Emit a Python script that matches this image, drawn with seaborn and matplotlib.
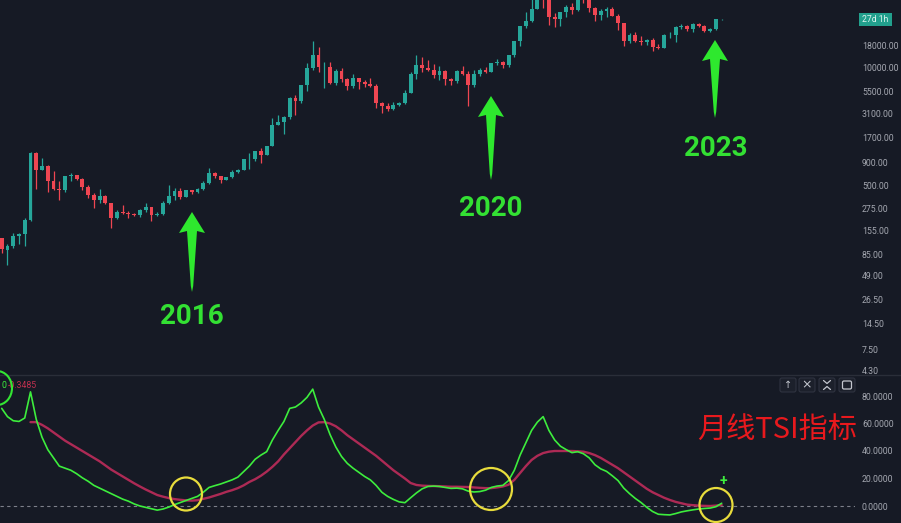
import numpy as np
import pandas as pd
import matplotlib
matplotlib.use("Agg")
import matplotlib.pyplot as plt
import seaborn as sns
from matplotlib.patches import Polygon, Ellipse, FancyBboxPatch, Rectangle
from matplotlib.lines import Line2D
from matplotlib.transforms import Affine2D
from matplotlib.ticker import FixedLocator, FixedFormatter, NullLocator

# ---------------- data (monthly, Jun 2013 .. Nov 2023) ----------------
months = pd.date_range("2013-06-01", "2023-11-01", freq="MS")

opens = [129, 96, 104, 135, 143, 205, 1130,
         740, 808, 560, 450, 445, 628, 640, 585, 478, 387, 338, 376,
         320, 217, 254, 244, 236, 230, 263, 284, 230, 236, 314, 377,
         430, 368, 437, 416, 448, 531, 673, 624, 573, 608, 700, 745,
         963, 970, 1190, 1080, 1350, 2300, 2480, 2875, 4700, 4340, 6470, 9950,
         13850, 10200, 10300, 6900, 9240, 7500, 6390, 7730, 7030, 6630, 6370, 4040,
         3740, 3460, 3850, 4100, 5320, 8570, 10800, 10100, 9600, 8290, 9150, 7540,
         7190, 9350, 8520, 6410, 8630, 9450, 9140, 11350, 11650, 10780, 13800, 19700,
         28990, 33110, 45140, 58800, 57700, 37300, 35040, 41460, 47100, 43800, 61300, 57000,
         46300, 38500, 43200, 45500, 37700, 31800, 19900, 23300, 20050, 19430, 20500, 17170,
         16550, 23120, 23150, 28480, 29270, 27200, 30480, 29230, 25940, 26970, 34640]
highs = [130, 111, 146, 145, 215, 1163, 1163,
         1000, 830, 720, 550, 630, 680, 650, 600, 500, 410, 455, 390,
         320, 265, 300, 261, 247, 268, 315, 285, 248, 334, 500, 466,
         460, 440, 440, 470, 550, 780, 705, 630, 615, 735, 750, 975,
         1150, 1210, 1290, 1350, 2760, 2980, 2930, 4750, 4980, 6470, 11500, 19700,
         17200, 11800, 11700, 9750, 9990, 7770, 8500, 7760, 7410, 7680, 6600, 4230,
         4070, 4200, 4150, 5640, 9090, 13900, 13200, 12300, 10950, 10500, 9520, 7740,
         9580, 10500, 9190, 9460, 10070, 10380, 11440, 12470, 12080, 14100, 19900, 29300,
         41950, 58350, 61800, 64900, 59500, 41300, 42400, 50500, 52900, 67000, 69000, 59000,
         47990, 45800, 48200, 47450, 39900, 31950, 24700, 25200, 22800, 21100, 21450, 18400,
         23950, 25250, 29200, 31000, 29850, 31400, 31800, 30200, 27500, 35200, 35000]
lows = [88, 65, 101, 110, 104, 197, 450,
        740, 420, 440, 340, 420, 550, 570, 440, 360, 275, 320, 310,
        165, 212, 237, 214, 225, 220, 253, 200, 225, 235, 310, 345,
        350, 365, 395, 412, 440, 520, 605, 530, 570, 605, 690, 745,
        750, 920, 890, 1070, 1350, 2300, 1830, 2700, 2970, 4110, 5500, 9400,
        9000, 6000, 6600, 6450, 7030, 5750, 6070, 5880, 6100, 6200, 3600, 3150,
        3350, 3400, 3740, 4030, 5320, 7510, 9070, 9330, 7710, 7300, 6520, 6440,
        6860, 8450, 3800, 6150, 8110, 8880, 8970, 10700, 9880, 10370, 13200, 17600,
        28130, 32300, 45000, 47000, 30000, 28800, 29280, 37330, 39600, 43300, 53300, 42000,
        32900, 34300, 37200, 37600, 26700, 17600, 18800, 19600, 18150, 18200, 15500, 16250,
        16500, 21350, 19550, 26950, 25800, 24800, 28850, 25300, 24900, 26550, 34100]
closes = [97, 104, 135, 143, 205, 1130, 740,
          808, 560, 450, 445, 628, 640, 585, 478, 387, 338, 376, 320,
          217, 254, 244, 236, 230, 263, 284, 230, 236, 314, 377, 430,
          368, 437, 416, 448, 531, 673, 624, 573, 608, 700, 745, 963,
          970, 1190, 1080, 1350, 2300, 2480, 2875, 4700, 4340, 6470, 9950, 13850,
          10200, 10300, 6900, 9240, 7500, 6390, 7730, 7030, 6630, 6370, 4040, 3740,
          3460, 3850, 4100, 5320, 8570, 10800, 10100, 9600, 8290, 9150, 7540, 7190,
          9350, 8520, 6410, 8630, 9450, 9140, 11350, 11650, 10780, 13800, 19700, 28990,
          33110, 45140, 58800, 57700, 37300, 35040, 41460, 47100, 43800, 61300, 57000, 46300,
          38500, 43200, 45500, 37700, 31800, 19900, 23300, 20050, 19430, 20500, 17170, 16550,
          23120, 23150, 28480, 29270, 27200, 30480, 29230, 25940, 26970, 34640, 34700]

tsi = [71, 65, 62, 61.5, 64, 83, 63, 50, 41, 35,
       29, 27.5, 26, 23.5, 20.5, 18, 15, 13, 11, 9,
       7, 5, 3.5, 1.5, 0, -1, -2, -3, -2.2, -0.8,
       1, 2.5, 4, 5.5, 7, 10, 13.5, 14.8, 16, 17.5,
       19, 21, 25, 29, 34, 37, 39.5, 48, 55, 61.5,
       71, 72, 75, 79, 85, 72, 63, 52, 43, 36,
       31, 27.5, 24.5, 21.5, 19, 15, 10, 7, 4.8, 3,
       2.4, 6, 9.5, 12.5, 14.2, 14.5, 14.2, 13.5, 12.8, 13,
       12.5, 10.8, 10.2, 10.5, 11.5, 13.5, 14.5, 15, 18.5, 26,
       37, 46, 55, 61, 65, 55, 48, 43.5, 41, 38.8,
       39.5, 38, 35, 30, 27, 25.2, 22, 18.5, 13, 9,
       5.5, 2.5, -1, -4, -6, -6.3, -6.5, -5.5, -4.3, -3.5,
       -2.8, -2.2, -1.8, -1.5, -0.5, 2]
signal_start = 5
signal = [61, 61, 59, 56.5, 53.5, 50.5, 47.5, 45, 42.5, 40,
          37.5, 35, 32.5, 29.5, 26.5, 24, 21.5, 19, 16.5, 14.2,
          12, 10, 8, 6.8, 5.8, 5, 4.5, 4.1, 3.9, 4.2,
          5.2, 6.2, 7.5, 8.8, 10.3, 11.5, 13, 15, 17.5, 19.5,
          22, 25, 28.5, 32.5, 37.5, 42, 46.5, 51, 55, 58.5,
          60.8, 61, 60, 58, 55, 51.5, 48.5, 45.5, 42.5, 39.5,
          36.5, 33, 29.5, 26, 23, 20, 16.7, 15.3, 14.8, 14.6,
          14.5, 14.4, 14.2, 14, 14, 13.9, 13.8, 13.5, 13.2, 13,
          13, 13.5, 14.2, 15.5, 19, 24, 29, 33.5, 36.5, 38.5,
          39.5, 40, 40, 40, 40, 39.8, 39.5, 38.5, 37, 35,
          32.5, 30, 27.5, 24.5, 21.5, 18.5, 15.5, 12.5, 10, 8,
          6, 4.4, 3, 2, 1, 0.6, 0.3, 0.1, 0, 0.3, 0.7]

price_ticks = [4.3, 7.5, 14.5, 26.5, 49, 85, 155, 275, 500, 900, 1700, 3100,
               5500, 10000, 18000, 57000]
tsi_ticks = [0, 20, 40, 60, 80]
year_labels = ["2016", "2020", "2023"]

# ---------------- style ----------------
BG = "#161a25"
UP = "#26a69a"
DN = "#ef4652"
sns.set_theme(style="dark")
plt.rcParams["font.family"] = ["Roboto", "DejaVu Sans"]
plt.rcParams["axes.facecolor"] = BG
plt.rcParams["figure.facecolor"] = BG

W, H = 901, 523
fig = plt.figure(figsize=(W / 100, H / 100), dpi=100)
PX = Affine2D().scale(1, -1).translate(0, H)   # pixel (top-left origin) -> display

ax = fig.add_axes([0, 1 - 373 / H, 855 / W, 373 / H])
ax2 = fig.add_axes([0, 0, 855 / W, (H - 376) / H])

n = len(months)
idx = np.arange(n)
o = np.array(opens, float); c = np.array(closes, float)
hi = np.array(highs, float); lo = np.array(lows, float)
up = c >= o
cols = np.where(up, UP, DN)
bb = np.minimum(o, c)
bt = np.maximum(np.maximum(o, c), bb * 1.014)

ax.vlines(idx, lo, hi, colors=cols, lw=0.9, zorder=2)
ax.bar(idx, bt - bb, bottom=bb, width=0.68, color=cols, lw=0, zorder=3)
ax.set_yscale("log")
ax.set_ylim(10 ** (4 - 305 / 90), 10 ** (4 + 68 / 90))
xl = (-1.7 / 5.76, (855 - 1.7) / 5.76)
ax.set_xlim(*xl)

for a in (ax, ax2):
    a.set_facecolor(BG)
    for s in a.spines.values():
        s.set_visible(False)
    a.grid(False)
    a.set_xticks([])
    a.yaxis.tick_right()
    a.tick_params(axis="y", length=0, pad=5, labelsize=6.3, labelcolor="#a4a7b0")
    a.set_xlabel(""); a.set_ylabel("")

ax.yaxis.set_major_locator(FixedLocator(price_ticks))
ax.yaxis.set_major_formatter(FixedFormatter([f"{t:.2f}" for t in price_ticks]))
ax.yaxis.set_minor_locator(NullLocator())

# ---------------- TSI panel ----------------
sns.lineplot(x=idx, y=tsi, ax=ax2, color="#3ded3d", lw=1.2, zorder=3)
sns.lineplot(x=idx[signal_start:], y=signal, ax=ax2, color="#ad2a55", lw=1.7, zorder=2)
ax2.axhline(0, color="#7d808a", lw=0.8, ls=(0, (3, 3)), zorder=1)
ax2.set_xlim(*xl)
ax2.set_ylim((506 - 523) / 27.5 * 20, (506 - 376) / 27.5 * 20)
ax2.yaxis.set_major_locator(FixedLocator(tsi_ticks))
ax2.yaxis.set_major_formatter(FixedFormatter([f"{t:.4f}" for t in tsi_ticks]))
ax2.set_xlabel(""); ax2.set_ylabel("")

# pane separator
fig.add_artist(Line2D([0, W], [374.5, 374.5], transform=PX, color="#2a2e39", lw=1))

# ---------------- annotations ----------------
GREEN = "#2ee82e"
def arrow(cx, ty, by):
    pts = [(cx, ty), (cx + 13, ty + 21), (cx + 5, ty + 19), (cx + 1.2, by - 6), (cx, by),
           (cx - 1.2, by - 6), (cx - 5, ty + 19), (cx - 13, ty + 21)]
    fig.add_artist(Polygon(pts, closed=True, transform=PX, fc=GREEN, ec="none", zorder=5))

arrow(192, 212, 292)
arrow(491, 96, 180)
arrow(715, 40, 118)
for lbl, (tx, ty) in zip(year_labels, [(192, 317), (491, 209), (716, 148)]):
    fig.text(tx, ty, lbl, transform=PX, ha="center", va="center", color="#33e033",
             fontsize=20, fontweight="bold", family=["Roboto", "DejaVu Sans"], zorder=6)

# yellow circles
for cx, cy, w, h in [(186, 494, 32, 33), (491, 489, 42, 42), (716, 505, 33, 34)]:
    fig.add_artist(Ellipse((cx, cy), w, h, transform=PX, fill=False, ec="#e8dc3c", lw=1.6, zorder=6))
# green circle top-left
fig.add_artist(Ellipse((-3, 388), 30, 34, transform=PX, fill=False, ec="#33e633", lw=1.5, zorder=6))
fig.text(1, 386, "0", transform=PX, ha="left", va="center", color="#3ded3d", fontsize=6.3)
fig.text(8, 386, "-0.3485", transform=PX, ha="left", va="center", color="#c0304f", fontsize=6.3)

# red Chinese label
fig.text(777, 430, "月线TSI指标", transform=PX, ha="center", va="center", color="#e8191d",
         fontsize=21, family=["Noto Sans CJK SC", "DejaVu Sans"], zorder=6)
# green plus
fig.text(723, 481, "+", transform=PX, ha="center", va="center", color="#3ded3d",
         fontsize=10, fontweight="bold", zorder=6)

# panel buttons
for bx in [788, 807, 827, 847]:
    fig.add_artist(FancyBboxPatch((bx - 8, 378), 16, 14, boxstyle="round,pad=0,rounding_size=2",
                                  transform=PX, fc="#1c202b", ec="#2f3340", lw=0.8, zorder=6))
IC = "#c4c7cf"
fig.text(788, 385, "↑", transform=PX, ha="center", va="center", color=IC, fontsize=7,
         family=["DejaVu Sans"], zorder=7)
fig.text(807, 385, "×", transform=PX, ha="center", va="center", color=IC, fontsize=9,
         family=["DejaVu Sans"], zorder=7)
fig.add_artist(Line2D([823.5, 827, 830.5], [380.5, 383.5, 380.5], transform=PX, color=IC, lw=0.9, zorder=7))
fig.add_artist(Line2D([823.5, 827, 830.5], [389.5, 386.5, 389.5], transform=PX, color=IC, lw=0.9, zorder=7))
fig.add_artist(FancyBboxPatch((842.5, 381), 9, 8, boxstyle="round,pad=0,rounding_size=1.5",
                              transform=PX, fill=False, ec=IC, lw=0.9, zorder=7))

# countdown label
fig.add_artist(Rectangle((859, 13), 33, 13, transform=PX, fc="#22a08d", ec="none", zorder=8))
fig.text(875.5, 19.5, "27d 1h", transform=PX, ha="center", va="center", color="#dff5f0",
         fontsize=6.2, zorder=9)

fig.savefig("out.png", dpi=100, facecolor=BG)
